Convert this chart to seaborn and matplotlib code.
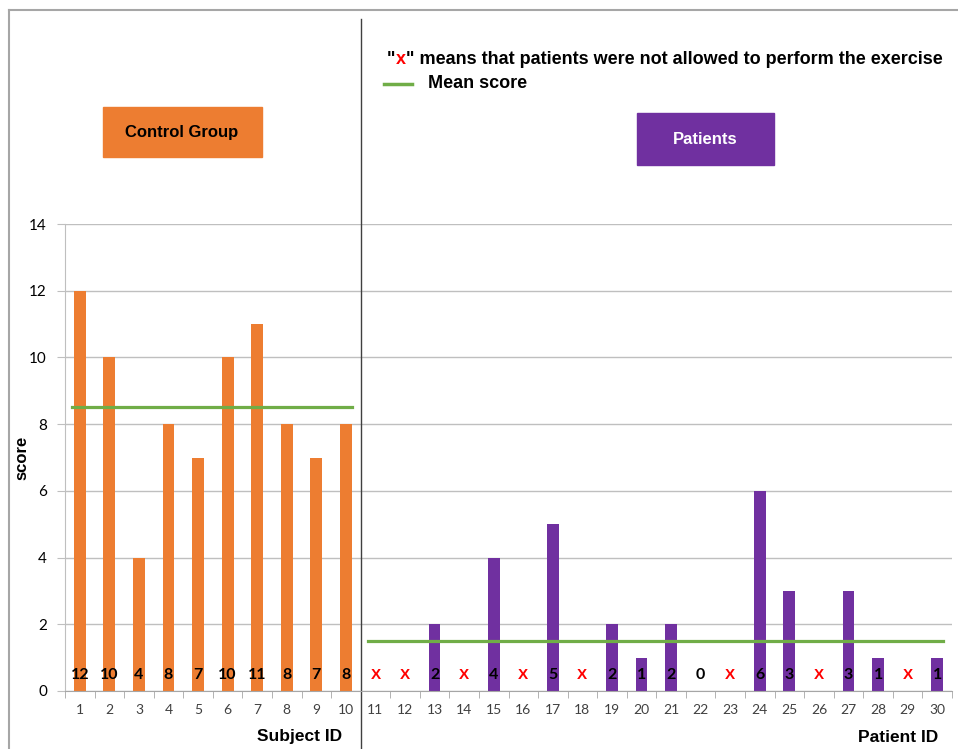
import numpy as np
import pandas as pd
import matplotlib.pyplot as plt
import matplotlib.patches as mpatches
from matplotlib.lines import Line2D
import seaborn as sns

# data
control_ids = list(range(1, 11))
control_scores = [12, 10, 4, 8, 7, 10, 11, 8, 7, 8]
patient_ids = list(range(11, 31))
# None -> "x": patient was not allowed to perform the exercise
patient_scores = [None, None, 2, None, 4, None, 5, None, 2, 1,
                  2, 0, None, 6, 3, None, 3, 1, None, 1]
control_mean = 8.5
patient_mean = 1.5
y_ticks = [0, 2, 4, 6, 8, 10, 12, 14]

ORANGE = '#ED7D31'
PURPLE = '#7030A0'
GREEN = '#70AD47'
BOLD = 'Liberation Sans'

plt.rcParams['font.family'] = ['Lato', 'DejaVu Sans']

df = pd.DataFrame({
    'id': [str(i) for i in control_ids + patient_ids],
    'score': [np.nan if s is None else s for s in control_scores + patient_scores],
    'group': ['Control'] * len(control_ids) + ['Patients'] * len(patient_ids),
})
df['bar'] = df['score'].fillna(0)

W, H = 958, 749
fig = plt.figure(figsize=(W / 100, H / 100), dpi=100)
ax = fig.add_axes([65 / W, 58 / H, 887 / W, 467 / H])

sns.barplot(data=df, x='id', y='bar', hue='group', order=list(df['id']),
            palette={'Control': ORANGE, 'Patients': PURPLE}, dodge=False,
            width=0.4, saturation=1, legend=False, ax=ax)

n_c = len(control_ids)
n = len(df)

# mean score lines
ax.plot([-0.25, n_c - 1 + 0.2], [control_mean] * 2, color=GREEN, lw=2.3, zorder=3)
ax.plot([n_c - 0.25, n - 1 + 0.2], [patient_mean] * 2, color=GREEN, lw=2.3, zorder=3)

# values written inside the bars
for i, s in enumerate(df['score']):
    if np.isnan(s):
        ax.text(i, 0.48, 'X', color='red', ha='center', va='center',
                fontsize=11, fontweight='bold', family=BOLD, zorder=4)
    else:
        ax.text(i, 0.48, f'{int(s)}', color='black', ha='center', va='center',
                fontsize=11.5, fontweight='bold', zorder=4)

ax.set_xlim(-0.5, n - 0.5)
ax.set_ylim(0, 14)
ax.set_yticks(y_ticks)
ax.set_xlabel('')
ax.set_ylabel('')
ax.set_xticks(np.arange(-0.5, n), minor=True)
ax.tick_params(axis='x', which='major', length=0, pad=9, labelsize=10, labelcolor='#404040')
ax.tick_params(axis='x', which='minor', length=5, color='#A6A6A6')
ax.tick_params(axis='y', length=6, color='#BFBFBF', labelsize=11, pad=7)
ax.yaxis.grid(True, color='#BFBFBF', lw=1)
ax.set_axisbelow(True)
for side in ['top', 'right']:
    ax.spines[side].set_visible(False)
ax.spines['left'].set_color('#BFBFBF')
ax.spines['bottom'].set_color('#A6A6A6')

# divider between the two groups
ax.axvline(n_c - 0.5, ymin=-58 / 467, ymax=(691 - 19) / 467, clip_on=False,
           color='#404040', lw=1)

# outer frame
fig.add_artist(Line2D([9 / W, 1], [1 - 10 / H] * 2, color='#A6A6A6', lw=1.5))
fig.add_artist(Line2D([9 / W] * 2, [0, 1 - 10 / H], color='#A6A6A6', lw=1.5))

# group boxes
fig.add_artist(mpatches.Rectangle((103 / W, 1 - 157 / H), 159 / W, 50 / H, color=ORANGE))
fig.text(182 / W, 1 - 132 / H, 'Control Group', ha='center', va='center',
         fontsize=12, fontweight='bold', family=BOLD, color='black')
fig.add_artist(mpatches.Rectangle((637 / W, 1 - 165 / H), 137 / W, 52 / H, color=PURPLE))
fig.text(705 / W, 1 - 139 / H, 'Patients', ha='center', va='center',
         fontsize=12, fontweight='bold', family=BOLD, color='white')

# legend notes
t1 = fig.text(387 / W, 1 - 60 / H, '"', fontsize=13, fontweight='bold',
              family=BOLD, va='center')
t2 = ax.annotate('x', xy=(1, 0), xycoords=t1, va='bottom', ha='left',
                 fontsize=13, fontweight='bold', family=BOLD, color='red')
ax.annotate('" means that patients were not allowed to perform the exercise',
            xy=(1, 0), xycoords=t2, va='bottom', ha='left',
            fontsize=13, fontweight='bold', family=BOLD, color='black')
fig.add_artist(Line2D([384 / W, 412 / W], [1 - 84 / H] * 2, color=GREEN, lw=2.5))
fig.text(428 / W, 1 - 84 / H, 'Mean score', fontsize=13, fontweight='bold',
         family=BOLD, va='center')

# axis titles
fig.text(22 / W, 1 - 458 / H, 'score', rotation=90, ha='center', va='center',
         fontsize=12, fontweight='bold', family=BOLD)
fig.text(300 / W, 1 - 737 / H, 'Subject ID', ha='center', va='center',
         fontsize=12.5, fontweight='bold', family=BOLD)
fig.text(938 / W, 1 - 737 / H, 'Patient ID', ha='right', va='center',
         fontsize=12.5, fontweight='bold', family=BOLD)

fig.savefig('out.png', dpi=100)
